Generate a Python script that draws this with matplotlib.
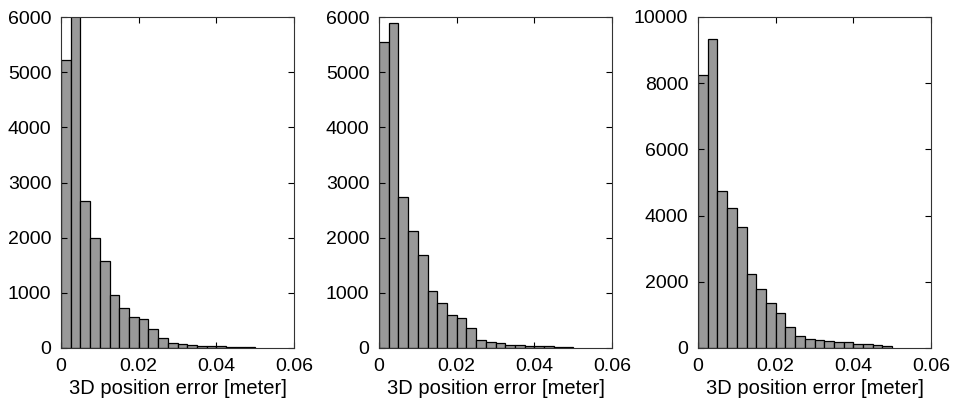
import numpy as np
import matplotlib
matplotlib.use("Agg")
import matplotlib.pyplot as plt

plt.rcParams['font.family'] = ['Liberation Sans', 'DejaVu Sans']

# Histogram bins of the 3D position error (meters)
bin_width = 0.0025
bin_starts = np.arange(20) * bin_width

# Counts per bin for the three runs
counts_a = [5220, 6150, 2660, 2000, 1575, 968, 732, 569, 533, 351,
            190, 91, 67, 49, 36, 36, 28, 15, 12, 10]
counts_b = [5540, 5900, 2742, 2113, 1683, 1035, 823, 593, 551, 369,
            145, 110, 90, 60, 50, 40, 30, 30, 25, 12]
counts_c = [8240, 9350, 4737, 4231, 3654, 2247, 1771, 1346, 1043, 630,
            370, 258, 248, 208, 172, 172, 116, 106, 76, 50]

all_counts = [counts_a, counts_b, counts_c]
y_limits = [6000, 6000, 10000]
y_ticks = [np.arange(0, 6001, 1000), np.arange(0, 6001, 1000), np.arange(0, 10001, 2000)]
x_ticks = [0, 0.02, 0.04, 0.06]
x_ticklabels = ['0', '0.02', '0.04', '0.06']
xlabel = '3D position error [meter]'

fig = plt.figure(figsize=(9.55, 4.0), dpi=100)
lefts = [61 / 955, 379 / 955, 698 / 955]
width = 233 / 955
bottom = 52 / 400
height = 331 / 400

for left, counts, ymax, yt in zip(lefts, all_counts, y_limits, y_ticks):
    ax = fig.add_axes([left, bottom, width, height])
    ax.bar(bin_starts, counts, width=bin_width, align='edge',
           color='#999999', edgecolor='black', linewidth=0.9)
    ax.set_xlim(0, 0.06)
    ax.set_ylim(0, ymax)
    ax.set_xticks(x_ticks)
    ax.set_xticklabels(x_ticklabels)
    ax.set_yticks(yt)
    ax.set_yticklabels([str(int(v)) for v in yt])
    ax.tick_params(direction='in', length=4, width=0.8, top=True, right=True,
                   labelsize=14, colors='black')
    ax.tick_params(axis='y', pad=7)
    ax.tick_params(axis='x', pad=7)
    for s in ax.spines.values():
        s.set_linewidth(0.8)
        s.set_color('#333333')
    ax.set_xlabel(xlabel, fontsize=14.5, labelpad=3)

fig.savefig('out.png', dpi=100)
